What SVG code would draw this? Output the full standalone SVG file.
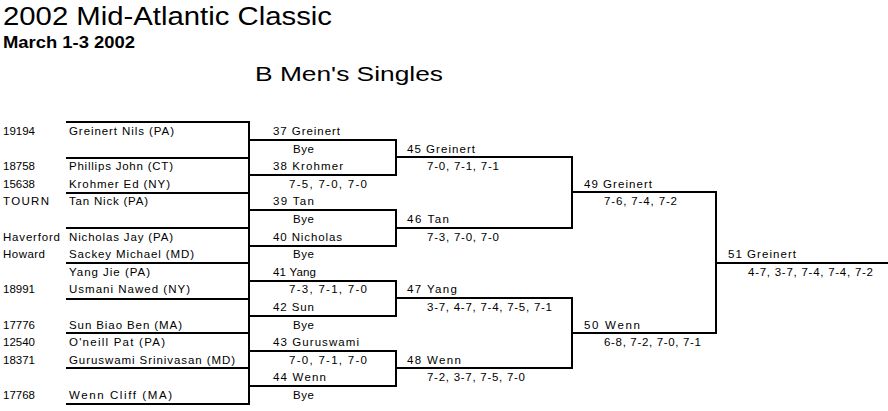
<svg xmlns="http://www.w3.org/2000/svg" width="888" height="411" viewBox="0 0 888 411">
<style>
text{font-family:"Liberation Sans",Arial,sans-serif;font-size:11.5px;fill:#000}
.title{font-size:25px}
.sub{font-size:16px;font-weight:bold}
.event{font-size:21px}
.ln{stroke:#000;stroke-width:2;fill:none;stroke-linecap:square}
</style>
<rect width="888" height="411" fill="#fff"/>
<g id="header">
<text class="title" x="3" y="25" textLength="329" lengthAdjust="spacingAndGlyphs">2002 Mid-Atlantic Classic</text>
<text class="sub" x="3" y="48" textLength="132" lengthAdjust="spacingAndGlyphs">March 1-3 2002</text>
<text class="event" x="255" y="81" textLength="188" lengthAdjust="spacingAndGlyphs">B Men's Singles</text>
</g>
<g id="connectors">
<path class="ln" d="M67 122H249M67 158H249M67 193H249M67 228H249M67 263H249M67 299H249M67 333H249M67 368H249M67 404H249M249 122V404"/>
<path class="ln" d="M249 140H396V175H249M249 210H396V246H249M249 281H396V316H249M249 351H396V386H249"/>
<path class="ln" d="M396 157H572V228H396M396 298H572V368H396"/>
<path class="ln" d="M572 192H716V333H572M716 263H888"/>
</g>
<g id="p1"><text x="3" y="135">19194</text><text x="69" y="135" textLength="105">Greinert Nils (PA)</text></g>
<g id="p2"><text x="3" y="170.2">18758</text><text x="69" y="170.2" textLength="104">Phillips John (CT)</text></g>
<g id="p3"><text x="3" y="187.8">15638</text><text x="69" y="187.8" textLength="101">Krohmer Ed (NY)</text></g>
<g id="p4"><text x="3" y="205.4" textLength="46">TOURN</text><text x="69" y="205.4" textLength="79">Tan Nick (PA)</text></g>
<g id="p5"><text x="3" y="240.6" textLength="57">Haverford</text><text x="69" y="240.6" textLength="104">Nicholas Jay (PA)</text></g>
<g id="p6"><text x="3" y="258.2" textLength="42">Howard</text><text x="69" y="258.2" textLength="125">Sackey Michael (MD)</text></g>
<g id="p7"><text x="69" y="275.8" textLength="81">Yang Jie (PA)</text></g>
<g id="p8"><text x="3" y="293.4">18991</text><text x="69" y="293.4" textLength="121">Usmani Nawed (NY)</text></g>
<g id="p9"><text x="3" y="328.6">17776</text><text x="69" y="328.6" textLength="113">Sun Biao Ben (MA)</text></g>
<g id="p10"><text x="3" y="346.2">12540</text><text x="69" y="346.2" textLength="96">O'neill Pat (PA)</text></g>
<g id="p11"><text x="3" y="363.8">18371</text><text x="69" y="363.8" textLength="166">Guruswami Srinivasan (MD)</text></g>
<g id="p12"><text x="3" y="399">17768</text><text x="69" y="399" textLength="103">Wenn Cliff (MA)</text></g>
<g id="m37"><text x="273" y="135" textLength="67">37 Greinert</text><text x="293" y="152.6" textLength="21">Bye</text></g>
<g id="m38"><text x="273" y="170.2" textLength="70">38 Krohmer</text><text x="289" y="187.8" textLength="78">7-5, 7-0, 7-0</text></g>
<g id="m39"><text x="273" y="205.4" textLength="41">39 Tan</text><text x="293" y="223" textLength="21">Bye</text></g>
<g id="m40"><text x="273" y="240.6" textLength="69">40 Nicholas</text><text x="293" y="258.2" textLength="21">Bye</text></g>
<g id="m41"><text x="273" y="275.8" textLength="43">41 Yang</text><text x="289" y="293.4" textLength="78">7-3, 7-1, 7-0</text></g>
<g id="m42"><text x="273" y="311" textLength="41">42 Sun</text><text x="293" y="328.6" textLength="21">Bye</text></g>
<g id="m43"><text x="273" y="346.2" textLength="86">43 Guruswami</text><text x="289" y="363.8" textLength="78">7-0, 7-1, 7-0</text></g>
<g id="m44"><text x="273" y="381.4" textLength="53">44 Wenn</text><text x="293" y="399" textLength="21">Bye</text></g>
<g id="m45"><text x="407" y="152.6" textLength="68">45 Greinert</text><text x="427" y="170.2" textLength="72">7-0, 7-1, 7-1</text></g>
<g id="m46"><text x="407" y="223" textLength="42">46 Tan</text><text x="427" y="240.6" textLength="72">7-3, 7-0, 7-0</text></g>
<g id="m47"><text x="407" y="293.4" textLength="50">47 Yang</text><text x="427" y="311" textLength="125">3-7, 4-7, 7-4, 7-5, 7-1</text></g>
<g id="m48"><text x="407" y="363.8" textLength="54">48 Wenn</text><text x="427" y="381.4" textLength="98">7-2, 3-7, 7-5, 7-0</text></g>
<g id="m49"><text x="584" y="187.8" textLength="68">49 Greinert</text><text x="604" y="205.4" textLength="73">7-6, 7-4, 7-2</text></g>
<g id="m50"><text x="584" y="328.6" textLength="56">50 Wenn</text><text x="604" y="346.2" textLength="97">6-8, 7-2, 7-0, 7-1</text></g>
<g id="m51"><text x="728" y="258.2" textLength="68">51 Greinert</text><text x="748" y="275.8" textLength="125">4-7, 3-7, 7-4, 7-4, 7-2</text></g>
</svg>
